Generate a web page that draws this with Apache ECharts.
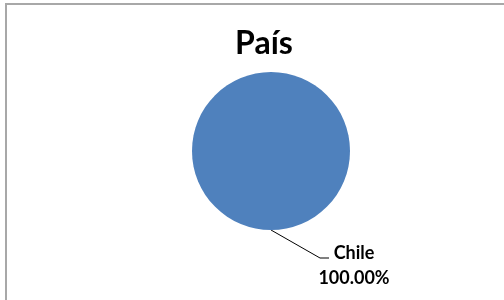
<!DOCTYPE html>
<html>
<head>
<meta charset="utf-8">
<script src="https://cdn.jsdelivr.net/npm/echarts@6/dist/echarts.min.js"></script>
<style>
    html, body { margin: 0; padding: 0; background: #fff; overflow: hidden; }
    #frame { position: absolute; left: 5px; top: 3px; width: 600px; height: 400px; border-left: 2px solid #a8a8a8; border-top: 2px solid #a8a8a8; }
    #main { position: absolute; left: 0; top: 0; width: 504px; height: 300px; }
</style>
</head>
<body>
<div id="frame"></div>
<div id="main"></div>
<script>
    let title = 'País';
    let categories = ['Chile'];
    let values = [1];

    let chart = echarts.init(document.getElementById('main'));
    let option = {
        animation: false,
        title: {
            text: title,
            left: 259,
            top: 23,
            textAlign: 'center',
            textStyle: {
                fontFamily: 'Lato',
                fontWeight: 'bold',
                fontSize: 32,
                color: '#000'
            }
        },
        series: [
            {
                type: 'pie',
                center: [271, 151],
                radius: [0, 79],
                startAngle: 90,
                data: categories.map((c, i) => ({ name: c, value: values[i] })),
                itemStyle: { color: '#4F81BD' },
                emphasis: { disabled: true },
                label: {
                    show: true,
                    formatter: (p) => p.name + '\n' + p.percent.toFixed(2) + '%',
                    fontFamily: 'Lato',
                    fontWeight: 'bold',
                    fontSize: 18,
                    lineHeight: 25,
                    color: '#000',
                    align: 'center'
                },
                labelLine: {
                    show: true,
                    lineStyle: { color: '#000', width: 1 }
                },
                labelLayout: function (params) {
                    let p0 = params.labelLinePoints ? params.labelLinePoints[0] : [271, 230];
                    return {
                        x: p0[0] + 83,
                        y: p0[1] + 36,
                        align: 'center',
                        verticalAlign: 'middle',
                        labelLinePoints: [p0, [p0[0] + 49, p0[1] + 28], [p0[0] + 58, p0[1] + 28]]
                    };
                }
            }
        ]
    };
    chart.setOption(option);
</script>
</body>
</html>
